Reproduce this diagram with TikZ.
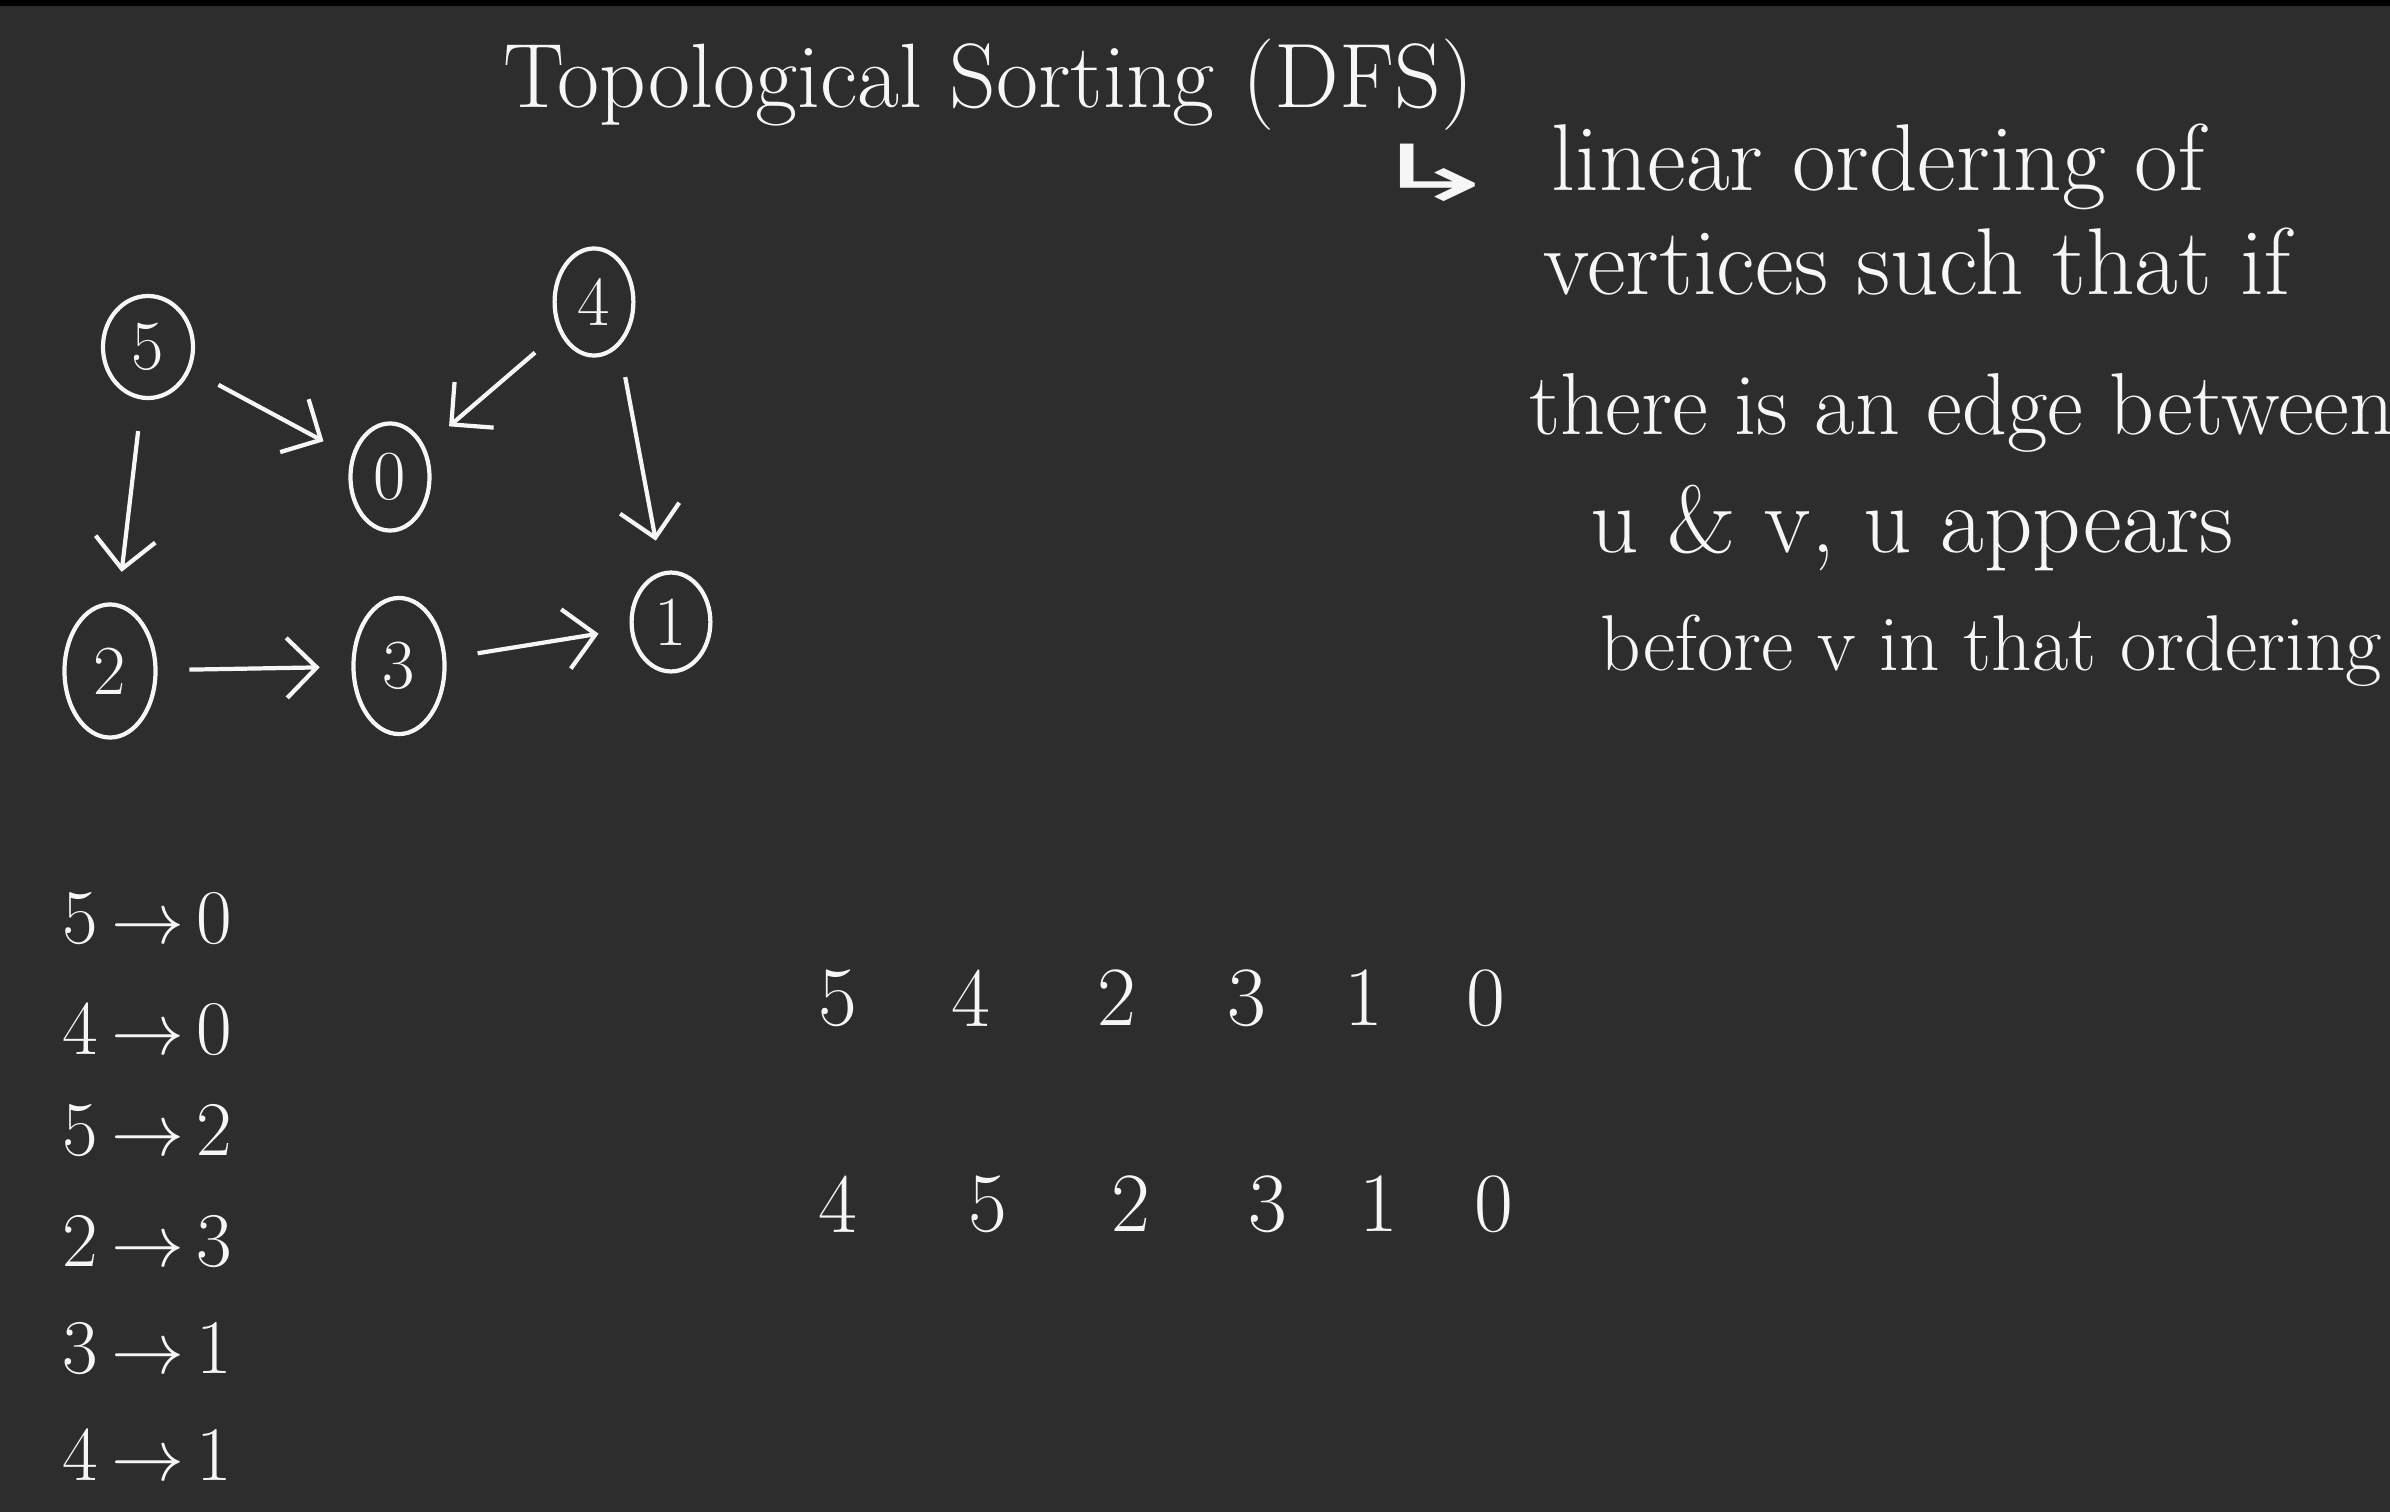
\documentclass[tikz,border=0pt]{standalone}
\usepackage{fontspec}
\newfontfamily\symfont{DejaVu Sans}
\usetikzlibrary{arrows.meta, positioning, shapes.geometric}
\definecolor{board}{RGB}{45,45,45}
\definecolor{chalk}{RGB}{246,246,246}
\tikzset{
  vertex/.style={draw=chalk, ellipse, line width=1.2pt, minimum width=0.82cm, minimum height=1.1cm, text=chalk, font=\fontsize{20}{24}\selectfont},
  arr/.style={-{Straight Barb[length=3mm, width=6mm]}, line width=1.2pt, draw=chalk, shorten <=9pt, shorten >=9pt},
  txt/.style={text=chalk, anchor=base west, inner sep=0pt, font=\fontsize{27}{32}\selectfont},
  digit/.style={text=chalk, inner sep=0pt, font=\fontsize{24}{28}\selectfont},
}

\begin{document}
\begin{tikzpicture}[x=0.01cm, y=-0.01cm]
    \useasboundingbox (0,0) rectangle (2390,1512);
    \clip (0,0) rectangle (2390,1512);
    \fill[board] (0,0) rectangle (2390,1512);
    \fill[black] (0,0) rectangle (2390,6);
    \node[txt, font=\fontsize{26}{30}\selectfont] (title) at (503,107) {Topological Sorting (DFS)};
    \node[txt, font=\symfont\fontsize{22}{26}\selectfont] (hook) at (1366,200) {\scalebox{2.1}[1]{↳}};
    \node[txt] (l1) at (1551,190) {linear ordering of};
    \node[txt] (l2) at (1543,294) {vertices such that if};
    \node[txt, font=\fontsize{25}{30}\selectfont] (l3) at (1529,434) {there is an edge between};
    \node[txt] (l4) at (1590,552) {u \& v, u appears};
    \node[txt, font=\fontsize{22.5}{27}\selectfont] (l5) at (1600,670) {before v in that ordering};
    \node[vertex, minimum width=0.9cm, minimum height=1.02cm] (n5) at (148,347) {5};
    \node[vertex, minimum width=0.76cm, minimum height=1.07cm] (n4) at (594,302) {4};
    \node[vertex, minimum width=0.79cm, minimum height=1.07cm] (n0) at (390,477) {0};
    \node[vertex, minimum width=0.91cm, minimum height=1.33cm] (n2) at (110,671) {2};
    \node[vertex, minimum width=0.91cm, minimum height=1.36cm] (n3) at (399,666) {3};
    \node[vertex, minimum width=0.69cm, minimum height=0.94cm] (n1) at (671,622) {1};
    \draw[arr] (n5) -- (n0);
    \draw[arr] (n5) -- (n2);
    \draw[arr] (n4) -- (n0);
    \draw[arr] (n4.-60) -- (n1);
    \draw[arr] (n2) -- (n3);
    \draw[arr] (n3) -- (n1);
    \foreach \u/\v/\y [count=\i] in {5/0/919, 4/0/1029, 5/2/1131, 2/3/1242, 3/1/1349, 4/1/1455}
      \node[digit, anchor=west, font=\fontsize{22}{26}\selectfont] (e\i) at (62,\y) {\u\,$\rightarrow$\,\v};
    \foreach \x/\d [count=\i] in {838/5, 971/4, 1117/2, 1247/3, 1364/1, 1486/0}
      \node[digit] (a\i) at (\x,998) {\d};
    \foreach \x/\d [count=\i] in {838/4, 988/5, 1131/2, 1268/3, 1379/1, 1494/0}
      \node[digit] (b\i) at (\x,1204) {\d};
\end{tikzpicture}
\end{document}
